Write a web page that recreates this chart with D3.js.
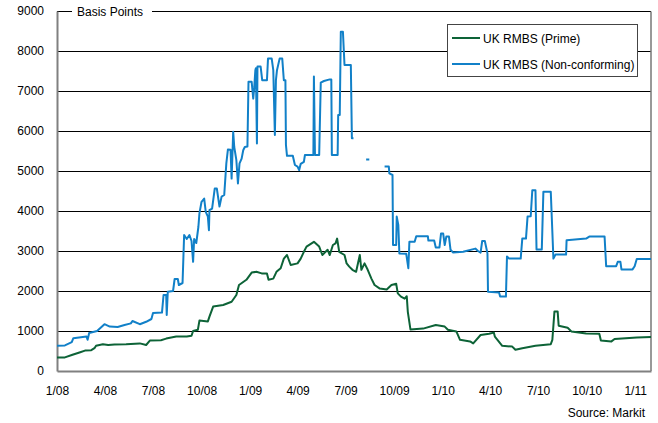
<!DOCTYPE html>
<html><head><meta charset="utf-8">
<script src="https://cdn.jsdelivr.net/npm/d3@7"></script>
<style>
html,body{margin:0;padding:0;background:#fff;}
svg text{font-family:"Liberation Sans",Arial,sans-serif;fill:#000;}
</style></head>
<body><svg id="chart" width="658" height="423"></svg>
<script>
// ---- data ----
const seriesNames = ["UK RMBS (Prime)", "UK RMBS (Non-conforming)"];
const seriesColors = ["#0d6337", "#1180c8"];
const yTicks = [0,1000,2000,3000,4000,5000,6000,7000,8000,9000];
const xTickDates = ["2008-01-01","2008-04-01","2008-07-01","2008-10-01","2009-01-01","2009-04-01","2009-07-01","2009-10-01","2010-01-01","2010-04-01","2010-07-01","2010-10-01","2011-01-01"];
const yLabel = "Basis Points";
const sourceText = "Source: Markit";

const primeDates = ["2008-01-01","2008-01-16","2008-01-29","2008-02-14","2008-02-23","2008-03-06","2008-03-12","2008-03-15","2008-03-28","2008-04-07","2008-04-19","2008-05-11","2008-06-06","2008-06-18","2008-06-25","2008-07-16","2008-07-26","2008-08-14","2008-09-03","2008-09-12","2008-09-15","2008-09-24","2008-09-27","2008-10-13","2008-10-16","2008-10-23","2008-11-11","2008-11-27","2008-12-06","2008-12-11","2008-12-25","2009-01-04","2009-01-13","2009-01-23","2009-02-02","2009-02-05","2009-02-14","2009-02-20","2009-02-28","2009-03-06","2009-03-12","2009-03-19","2009-04-01","2009-04-07","2009-04-13","2009-04-18","2009-05-02","2009-05-12","2009-05-18","2009-05-28","2009-06-01","2009-06-07","2009-06-12","2009-06-15","2009-06-19","2009-06-29","2009-07-03","2009-07-08","2009-07-14","2009-07-21","2009-07-28","2009-07-31","2009-08-06","2009-08-12","2009-08-19","2009-08-25","2009-09-04","2009-09-17","2009-09-26","2009-10-05","2009-10-08","2009-10-14","2009-10-21","2009-10-25","2009-10-27","2009-11-01","2009-11-25","2009-12-19","2010-01-05","2010-01-11","2010-01-27","2010-02-03","2010-02-22","2010-02-28","2010-03-14","2010-03-30","2010-04-08","2010-04-10","2010-04-24","2010-05-13","2010-05-19","2010-06-01","2010-06-26","2010-07-25","2010-07-28","2010-08-01","2010-08-07","2010-08-09","2010-08-26","2010-09-02","2010-09-30","2010-10-25","2010-10-28","2010-11-17","2010-11-23","2011-01-04","2011-01-31"];
const primeValues = [340,340,400,470,510,520,570,630,670,650,660,670,690,650,760,770,810,860,860,880,1000,1030,1260,1240,1360,1610,1650,1730,1900,2150,2280,2460,2480,2440,2440,2280,2310,2480,2570,2810,2900,2650,2690,2810,2980,3110,3230,3110,2900,3030,2900,3150,3190,3310,2980,2900,2690,2610,2530,2480,2900,2530,2690,2530,2310,2150,2060,2040,2150,2180,1940,1860,1810,1870,1480,1040,1060,1150,1110,1030,990,780,740,690,900,930,960,860,630,610,530,570,630,670,780,1490,1490,1130,1080,990,940,930,760,740,800,840,850];

// null values mark gaps in the non-conforming series
const ncDates = ["2008-01-01","2008-01-16","2008-01-29","2008-02-01","2008-02-26","2008-02-28","2008-03-02","2008-03-17","2008-03-31","2008-04-10","2008-04-25","2008-05-08","2008-05-20","2008-05-23","2008-06-06","2008-06-18","2008-06-28","2008-07-01","2008-07-18","2008-07-21","2008-07-26","2008-07-27","2008-07-29","2008-08-08","2008-08-11","2008-08-17","2008-08-19","2008-08-26","2008-08-29","2008-09-03","2008-09-08","2008-09-12","2008-09-15","2008-09-17","2008-09-21","2008-09-25","2008-09-27","2008-10-01","2008-10-06","2008-10-09","2008-10-13","2008-10-15","2008-10-16","2008-10-21","2008-10-26","2008-10-30","2008-11-04","2008-11-08","2008-11-13","2008-11-17","2008-11-20","2008-11-25","2008-11-27","2008-11-30","2008-12-02","2008-12-06","2008-12-09","2008-12-12","2008-12-16","2008-12-19","2008-12-22","2008-12-27","2008-12-29","2009-01-04","2009-01-07","2009-01-09","2009-01-11","2009-01-12","2009-01-14","2009-01-15","2009-01-21","2009-01-24","2009-02-02","2009-02-04","2009-02-11","2009-02-14","2009-02-17","2009-02-19","2009-02-21","2009-02-26","2009-03-03","2009-03-06","2009-03-09","2009-03-10","2009-03-12","2009-03-23","2009-03-27","2009-04-01","2009-04-04","2009-04-07","2009-04-13","2009-04-15","2009-05-01","2009-05-02","2009-05-04","2009-05-12","2009-05-15","2009-05-21","2009-06-01","2009-06-04","2009-06-05","2009-06-16","2009-06-17","2009-06-20","2009-06-22","2009-06-26","2009-06-29","2009-07-11","2009-07-13","2009-07-16","2009-07-30","2009-08-09","2009-08-15","2009-08-30","2009-09-13","2009-09-21","2009-09-22","2009-09-28","2009-09-29","2009-10-05","2009-10-06","2009-10-09","2009-10-11","2009-10-24","2009-10-28","2009-10-30","2009-11-09","2009-11-12","2009-12-04","2009-12-05","2009-12-16","2009-12-19","2009-12-26","2009-12-29","2010-01-02","2010-01-05","2010-01-08","2010-01-13","2010-01-16","2010-01-21","2010-02-09","2010-03-04","2010-03-09","2010-03-14","2010-03-17","2010-03-22","2010-03-27","2010-03-28","2010-04-18","2010-04-20","2010-05-01","2010-05-03","2010-05-07","2010-05-29","2010-06-01","2010-06-08","2010-06-11","2010-06-17","2010-06-20","2010-06-26","2010-06-28","2010-07-08","2010-07-11","2010-07-25","2010-07-30","2010-08-03","2010-08-23","2010-08-24","2010-09-30","2010-10-06","2010-11-04","2010-11-07","2010-11-26","2010-11-29","2010-12-04","2010-12-06","2010-12-27","2010-12-31","2011-01-04","2011-01-31"];
const ncValues = [630,640,720,820,860,780,950,1000,1170,1110,1100,1150,1190,1250,1170,1230,1300,1450,1460,1900,1900,1400,1980,2000,2300,2300,2150,2200,3400,3300,3400,3250,2730,3300,3200,3600,3940,4230,4310,3980,3860,3520,4020,4060,4560,4560,4110,4360,4400,5190,5540,5530,4810,5980,5600,5270,4690,5190,5310,5520,5600,5610,7230,7230,6810,7110,7520,7570,5690,7610,7610,7270,7270,7810,7810,7520,5900,7270,7520,7810,7810,7270,7270,5650,5380,5380,5150,5110,5020,5180,5230,5400,5400,7360,5400,5400,7210,7250,7290,7290,5400,5400,6400,6400,8480,8480,7650,7650,5820,5820,null,5290,5290,null,5110,5110,4940,4900,3150,3150,3860,3650,2940,2930,2570,3230,3230,3370,3370,3260,3260,3090,3090,3440,3440,3150,3360,3360,3030,2960,2980,3060,3000,2960,3250,3250,2940,1980,1960,1860,1860,2860,2810,2810,3310,3310,3860,3870,4520,4520,3040,3040,4480,4480,2810,2910,2910,3270,3310,3360,3360,2620,2620,2730,2730,2540,2540,2620,2800,2800];

// ---- chart ----
const parse = d3.timeParse("%Y-%m-%d");
const svg = d3.select("#chart");
const m = {left:57, right:651, top:11, bottom:371};

const x = d3.scaleTime().domain([parse("2008-01-01"), parse("2011-01-31")]).range([m.left, m.right]);
const y = d3.scaleLinear().domain([0, 9000]).range([m.bottom, m.top]);
const fmt = d3.timeFormat("%-m/%y");

// gridlines
svg.append("g").selectAll("line").data(yTicks.filter(v => v > 0 && v < 9000)).join("line")
  .attr("x1", m.left).attr("x2", m.right)
  .attr("y1", d => Math.round(y(d)) + 0.5).attr("y2", d => Math.round(y(d)) + 0.5)
  .attr("stroke", "#000").attr("stroke-width", 1);

// top frame line (with gap for label)
const topY = Math.round(y(9000)) + 0.5;
svg.append("line").attr("x1", m.left).attr("x2", 72).attr("y1", topY).attr("y2", topY).attr("stroke","#000");
svg.append("line").attr("x1", 152).attr("x2", m.right).attr("y1", topY).attr("y2", topY).attr("stroke","#000");
svg.append("text").attr("x", 77).attr("y", topY + 4.5).attr("font-size", 12).text(yLabel);

// right border
svg.append("line").attr("x1", m.right).attr("x2", m.right).attr("y1", topY).attr("y2", m.bottom)
  .attr("stroke", "#777").attr("stroke-width", 1.5);

// y axis
const yAxis = d3.axisLeft(y).tickValues(yTicks).tickSize(0).tickPadding(13).tickFormat(d3.format("d"));
const gy = svg.append("g").attr("transform", `translate(${m.left},0)`).call(yAxis);
gy.select(".domain").attr("stroke", "#808080").attr("stroke-width", 2);
gy.selectAll("text").attr("font-size", 12).attr("font-family", "Liberation Sans, Arial, sans-serif").attr("fill","#000");

// x axis
const xAxis = d3.axisBottom(x).tickValues(xTickDates.map(parse)).tickSize(0).tickPadding(15).tickFormat(fmt);
const gx = svg.append("g").attr("transform", `translate(0,${m.bottom})`).call(xAxis);
gx.select(".domain").attr("stroke", "#808080").attr("stroke-width", 2);
gx.selectAll("text").attr("font-size", 12).attr("font-family", "Liberation Sans, Arial, sans-serif").attr("fill","#000");

// lines
const line = d3.line().defined(d => d.v !== null).x(d => x(d.t)).y(d => y(d.v));
const prime = primeDates.map((d, i) => ({t: parse(d), v: primeValues[i]}));
const nc = ncDates.map((d, i) => ({t: parse(d), v: ncValues[i]}));
[prime, nc].forEach((s, i) => {
  svg.append("path").datum(s).attr("d", line).attr("fill", "none")
    .attr("stroke", seriesColors[i]).attr("stroke-width", 2).attr("stroke-linejoin", "round");
});

// legend
const lg = svg.append("g");
lg.append("rect").attr("x", 447.5).attr("y", 24.5).attr("width", 190).attr("height", 52)
  .attr("fill", "#fff").attr("stroke", "#444").attr("stroke-width", 1);
seriesNames.forEach((n, i) => {
  const ly = 38 + i * 26;
  lg.append("line").attr("x1", 452).attr("x2", 480).attr("y1", ly).attr("y2", ly)
    .attr("stroke", seriesColors[i]).attr("stroke-width", 2);
  lg.append("text").attr("x", 483).attr("y", ly + 4.5).attr("font-size", 12).text(n);
});

// source
svg.append("text").attr("x", 645).attr("y", 417).attr("text-anchor", "end").attr("font-size", 12).text(sourceText);
</script></body></html>
